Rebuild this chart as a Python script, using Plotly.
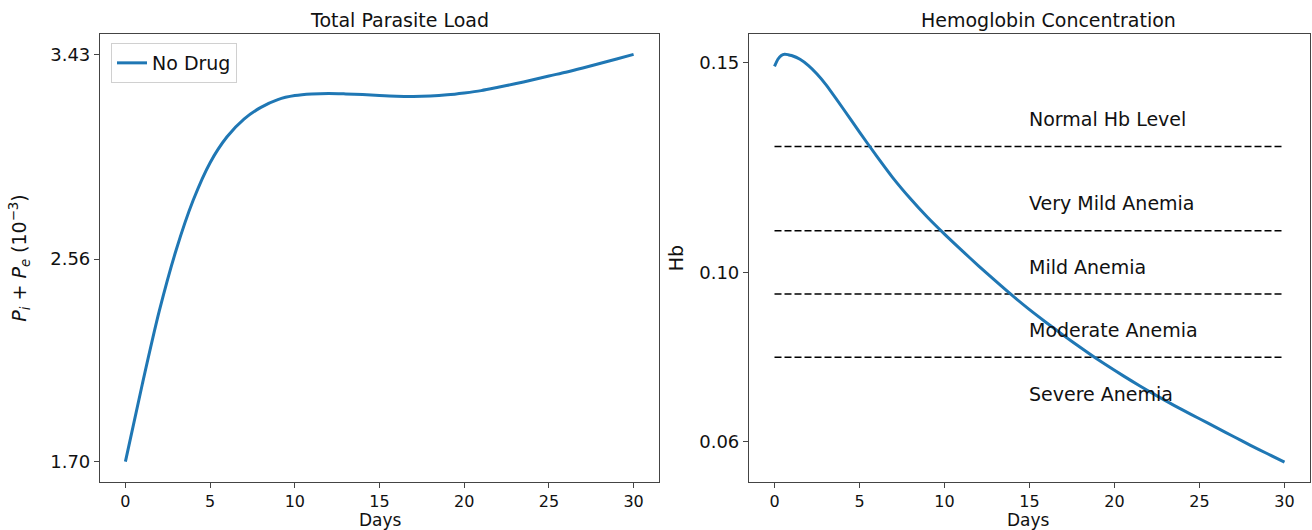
import plotly.graph_objects as go

# ---------------- data ----------------
days_p = [0, 1, 2, 3, 4, 5, 6, 7, 8, 9, 10, 11, 12, 13, 14, 15, 16, 17, 18, 19,
          20, 21, 22, 23, 24, 25, 26, 27, 28, 29, 30]
parasite_load = [1.70, 2.03, 2.34, 2.60, 2.81, 2.97, 3.08, 3.155, 3.205, 3.238,
                 3.255, 3.262, 3.264, 3.262, 3.259, 3.255, 3.252, 3.251, 3.253,
                 3.258, 3.266, 3.276, 3.290, 3.305, 3.321, 3.338, 3.354, 3.372,
                 3.391, 3.410, 3.43]

days_hb = [0, 0.2, 0.4, 0.6, 0.8, 1.0, 1.5, 2, 2.5, 3, 4, 5, 6, 7, 8, 9, 10, 11,
           12, 13, 14, 15, 16, 17, 18, 19, 20, 21, 22, 23, 24, 25, 26, 27, 28,
           29, 30]
hemoglobin = [0.1490, 0.1507, 0.1516, 0.1519, 0.1518, 0.1516, 0.1507, 0.1492,
              0.1472, 0.1448, 0.1392, 0.1334, 0.1278, 0.1224, 0.1176, 0.1132,
              0.1092, 0.1054, 0.1017, 0.0981, 0.0946, 0.0913, 0.0882, 0.0852,
              0.0823, 0.0795, 0.0769, 0.0744, 0.0720, 0.0697, 0.0675, 0.0654,
              0.0633, 0.0612, 0.0591, 0.0571, 0.0551]

hb_thresholds = [0.13, 0.11, 0.095, 0.08]
threshold_x = [0, 30]
hb_band_labels = ["Normal Hb Level", "Very Mild Anemia", "Mild Anemia",
                  "Moderate Anemia", "Severe Anemia"]
hb_band_label_y = [0.1366, 0.1166, 0.1014, 0.0864, 0.0714]
hb_label_x = 15

left_yticks = [1.70, 2.56, 3.43]
left_yticklabels = ["1.70", "2.56", "3.43"]
right_yticks = [0.06, 0.10, 0.15]
right_yticklabels = ["0.06", "0.10", "0.15"]
xticks = [0, 5, 10, 15, 20, 25, 30]

# ---------------- figure ----------------
W, H = 1312, 530
FONT = "DejaVu Sans"
BLUE = "#1f77b4"
TXT = 19
TICK = 18

fig = go.Figure()

fig.add_trace(go.Scatter(x=days_p, y=parasite_load, mode="lines", name="No Drug",
                         line=dict(color=BLUE, width=3, shape="spline", smoothing=0.8),
                         xaxis="x", yaxis="y", showlegend=True))

for thr in hb_thresholds:
    fig.add_trace(go.Scatter(x=threshold_x, y=[thr, thr], mode="lines",
                             line=dict(color="black", width=1.5, dash="7px,3px"),
                             xaxis="x2", yaxis="y2", showlegend=False,
                             hoverinfo="skip"))

fig.add_trace(go.Scatter(x=days_hb, y=hemoglobin, mode="lines", name="Hb",
                         line=dict(color=BLUE, width=3, shape="spline", smoothing=0.6),
                         xaxis="x2", yaxis="y2", showlegend=False))

def px_x(p):
    return p / W

def px_y(p):
    return 1 - p / H

ydom = [px_y(482), px_y(34)]
axis_common = dict(showline=True, linecolor="#444", linewidth=1.2, mirror=True,
                   ticks="outside", ticklen=5, tickcolor="#444", showgrid=False,
                   zeroline=False)
xtickfont = dict(family=FONT, size=16, color="#111")
ytickfont = dict(family=FONT, size=TICK, color="#111")

fig.update_layout(
    width=W, height=H,
    margin=dict(l=0, r=0, t=0, b=0),
    paper_bgcolor="white", plot_bgcolor="white",
    font=dict(family=FONT, size=TXT, color="#111"),
    xaxis=dict(domain=[px_x(100), px_x(659)], range=[-1.5, 31.5], tickvals=xticks,
               anchor="y", tickfont=xtickfont, **axis_common),
    yaxis=dict(domain=ydom, range=[1.6135, 3.5165], tickvals=left_yticks,
               ticktext=left_yticklabels, anchor="x", tickfont=ytickfont,
               title=dict(text="<i>P<sub>i</sub></i> + <i>P<sub>e</sub></i> (10<sup>−3</sup>)",
                          font=dict(family=FONT, size=TXT), standoff=18),
               **axis_common),
    xaxis2=dict(domain=[px_x(749), px_x(1310)], range=[-1.5, 31.5], tickvals=xticks,
                anchor="y2", tickfont=xtickfont, **axis_common),
    yaxis2=dict(domain=ydom, range=[0.0504, 0.1567], tickvals=right_yticks,
                ticktext=right_yticklabels, anchor="x2", tickfont=ytickfont,
                title=dict(text="Hb", font=dict(family=FONT, size=TXT), standoff=10),
                **axis_common),
    legend=dict(x=px_x(111), y=px_y(43), xanchor="left", yanchor="top",
                bgcolor="rgba(255,255,255,0.9)", bordercolor="#d0d0d0", borderwidth=1,
                font=dict(family=FONT, size=TXT, color="#111"),
                tracegroupgap=0),
    showlegend=True,
)

annotations = [
    dict(text="Total Parasite Load", x=px_x(399), y=px_y(20), xref="paper", yref="paper",
         xanchor="center", yanchor="middle", showarrow=False,
         font=dict(family=FONT, size=TXT, color="#111")),
    dict(text="Hemoglobin Concentration", x=px_x(1048), y=px_y(20), xref="paper",
         yref="paper", xanchor="center", yanchor="middle", showarrow=False,
         font=dict(family=FONT, size=TXT, color="#111")),
    dict(text="Days", x=px_x(380), y=0, xref="paper", yref="paper",
         xanchor="center", yanchor="bottom", showarrow=False, yshift=-2,
         font=dict(family=FONT, size=17, color="#111")),
    dict(text="Days", x=px_x(1028), y=0, xref="paper", yref="paper",
         xanchor="center", yanchor="bottom", showarrow=False, yshift=-2,
         font=dict(family=FONT, size=17, color="#111")),
]
for lab, yv in zip(hb_band_labels, hb_band_label_y):
    annotations.append(dict(text=lab, x=hb_label_x, y=yv, xref="x2", yref="y2",
                            xanchor="left", yanchor="middle", showarrow=False,
                            xshift=-3,
                            font=dict(family=FONT, size=TXT, color="#111")))
fig.update_layout(annotations=annotations)

fig.write_html("out.html")
